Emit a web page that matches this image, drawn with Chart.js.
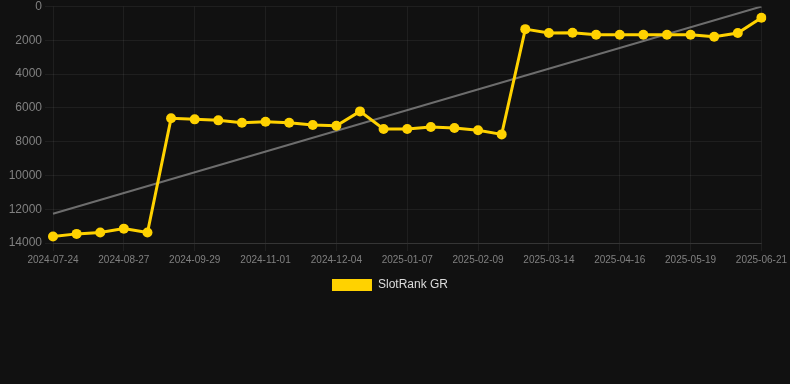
<!DOCTYPE html>
<html>
<head>
<meta charset="utf-8">
<script src="https://cdn.jsdelivr.net/npm/chart.js@4.4.1/dist/chart.umd.min.js"></script>
<style>
  html, body { margin: 0; padding: 0; background: #111111; }
  #wrap { position: relative; width: 790px; height: 301px; }
</style>
</head>
<body>
<div id="wrap"><canvas id="rank-canvas"></canvas></div>
<script>
// dates of each sample (every 3rd one is shown on the axis)
const dates = [
  '2024-07-24', '2024-08-04', '2024-08-15', '2024-08-27', '2024-09-07', '2024-09-18',
  '2024-09-29', '2024-10-10', '2024-10-21', '2024-11-01', '2024-11-12', '2024-11-23',
  '2024-12-04', '2024-12-15', '2024-12-26', '2025-01-07', '2025-01-18', '2025-01-29',
  '2025-02-09', '2025-02-20', '2025-03-03', '2025-03-14', '2025-03-25', '2025-04-05',
  '2025-04-16', '2025-04-27', '2025-05-08', '2025-05-19', '2025-05-30', '2025-06-10',
  '2025-06-21'
]

// rank values
const rankGR = [
  13620, 13460, 13380, 13150, 13380, 6620,
  6680, 6740, 6880, 6820, 6880, 7020,
  7060, 6210, 7250, 7250, 7130, 7190,
  7330, 7570, 1340, 1570, 1550, 1670,
  1670, 1670, 1670, 1670, 1790, 1570,
  670
]

// trend line end points
const trendStart = 12270
const trendEnd = 0
const trend = dates.map((d, i) => i === 0 ? trendStart : (i === dates.length - 1 ? trendEnd : null))

const yTicks = [0, 2000, 4000, 6000, 8000, 10000, 12000, 14000]

const gridColor = 'rgba(255, 255, 255, 0.06)'
const tickColor = 'rgb(128, 128, 128)'

const ctx = document.getElementById('rank-canvas')

new Chart(ctx, {
  type: 'line',
  data: {
    labels: dates,
    datasets: [{
      label: 'SlotRank GR',
      data: rankGR,
      borderColor: '#ffd200',
      backgroundColor: '#ffd200',
      borderWidth: 3,
      pointRadius: 5,
      pointBackgroundColor: '#ffd200',
      pointBorderWidth: 0,
      tension: 0
    }, {
      label: 'trend',
      data: trend,
      spanGaps: true,
      borderColor: 'rgba(140, 140, 140, 0.75)',
      borderWidth: 2,
      pointRadius: 0,
      tension: 0
    }]
  },
  options: {
    responsive: true,
    maintainAspectRatio: false,
    animation: false,
    layout: { padding: { left: 0, right: 10 } },
    plugins: {
      legend: {
        position: 'bottom',
        labels: {
          color: 'rgb(220, 220, 220)',
          font: { size: 12 },
          generateLabels: chart => Chart.defaults.plugins.legend.labels.generateLabels(chart)
            .filter(item => item.text !== 'trend')
            .map(item => Object.assign(item, { lineWidth: 0 }))
        }
      },
      tooltip: { enabled: false }
    },
    scales: {
      x: {
        grid: { color: gridColor },
        border: { color: 'rgba(255, 255, 255, 0.1)' },
        ticks: {
          color: tickColor,
          font: { size: 10 },
          maxRotation: 0,
          autoSkip: true,
          maxTicksLimit: 11
        }
      },
      y: {
        reverse: true,
        min: 0,
        max: 14000,
        afterBuildTicks: axis => { axis.ticks = yTicks.map(v => ({ value: v })) },
        afterFit: axis => {
          axis.width = 53
          axis.paddingTop = 6.5
        },
        grid: { color: gridColor },
        border: { display: false },
        ticks: {
          color: tickColor,
          font: { size: 12 },
          callback: v => String(v)
        }
      }
    }
  }
})
</script>
</body>
</html>
